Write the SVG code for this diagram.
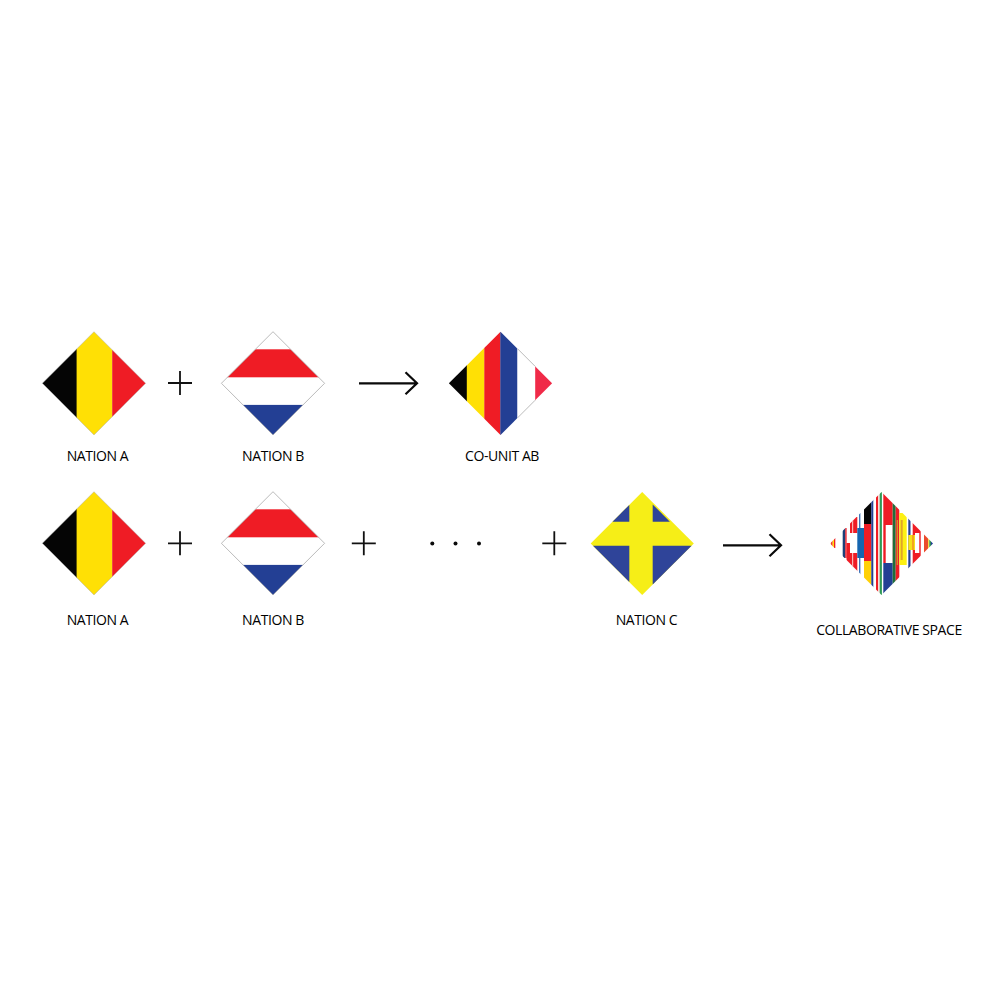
<svg xmlns="http://www.w3.org/2000/svg" width="1000" height="1000" viewBox="0 0 1000 1000">
<style>
.lbl{font-family:"Open Sans","Noto Sans",sans-serif;font-size:14px;fill:#000;text-anchor:middle;letter-spacing:-.42px}
.edge{fill:none;stroke:#a9a9a9;stroke-width:.8}
.conn{fill:none;stroke:#111;stroke-width:1.8}
.arr{fill:none;stroke:#0a0a0a;stroke-width:2.2}
.blk{fill:#050505}.yel{fill:#ffe005}.red{fill:#ef1c25}.blu{fill:#233f94}.wht{fill:#fff}.sw{fill:#2f4499}
</style>
<defs>
<clipPath id="dc"><polygon points="0,-51.6 51.6,0 0,51.6 -51.6,0"/></clipPath>
<clipPath id="cc"><polygon points="881.5,492 933,543.5 881.5,595 830,543.5"/></clipPath>
<g id="belgium"><g clip-path="url(#dc)">
<rect class="blk" x="-52" y="-52" width="35" height="104"/><rect class="yel" x="-17.400" y="-52" width="35.600" height="104"/><rect class="red" x="18.200" y="-52" width="34" height="104"/></g>
<polygon class="edge" points="0,-51.600 51.600,0 0,51.600 -51.600,0" stroke-opacity=".6"/></g>
<g id="netherlands"><g clip-path="url(#dc)">
<rect class="wht" x="-52" y="-52" width="104" height="104"/>
<rect class="red" x="-52" y="-34" width="104" height="28"/><rect class="blu" x="-52" y="21.600" width="104" height="31"/></g>
<polygon class="edge" points="0,-51.600 51.600,0 0,51.600 -51.600,0"/></g>
<path id="plus" class="conn" d="M-12,0H12M0,-12V12"/>
<path id="arrow" class="arr" d="M0,0H58M46.500,-11L58,0L46.500,11"/>
</defs>

<g id="connectors">
<use href="#plus" x="180" y="383"/>
<use href="#arrow" x="359" y="383.300"/>
<use href="#plus" x="180" y="543.300"/>
<use href="#plus" x="363.800" y="543.300"/>
<use href="#plus" x="554.300" y="543.300"/>
<use href="#arrow" x="723" y="545.300"/>
<g fill="#0a0a0a"><circle cx="432.300" cy="543.500" r="2"/><circle cx="455.500" cy="543.500" r="2"/><circle cx="479" cy="543.500" r="2"/></g>
</g>

<g id="nation-a-1"><use href="#belgium" x="94" y="383.300"/><text class="lbl" x="97.500" y="461">NATION A</text></g>
<g id="nation-b-1"><use href="#netherlands" x="273" y="383.300"/><text class="lbl" x="273" y="461">NATION B</text></g>
<g id="co-unit-ab"><g transform="translate(500.500 383.300)"><g clip-path="url(#dc)">
<rect class="blk" x="-52" y="-52" width="18.500" height="104"/><rect class="yel" x="-33.700" y="-52" width="17.700" height="104"/><rect class="red" x="-16.200" y="-52" width="16.200" height="104"/><rect class="blu" x="-.2" y="-52" width="17.200" height="104"/><rect class="wht" x="17" y="-52" width="17.700" height="104"/><rect fill="#f02a48" x="34.700" y="-52" width="18" height="104"/></g>
<path class="edge" d="M17,-34.600L34.700,-16.900M17,34.600L34.700,16.900"/></g>
<text class="lbl" x="502" y="461">CO-UNIT AB</text></g>

<g id="nation-a-2"><use href="#belgium" x="94" y="543.300"/><text class="lbl" x="97.500" y="625">NATION A</text></g>
<g id="nation-b-2"><use href="#netherlands" x="273" y="543.300"/><text class="lbl" x="273" y="625">NATION B</text></g>
<g id="nation-c"><polygon fill="#f6ee17" points="642.200,492 693.800,543.500 642.200,595 590.700,543.500"/>
<polygon class="sw" points="629.300,504.900 629.300,521.700 612.500,521.700"/>
<polygon class="sw" points="652.700,504.400 669.900,521.700 652.700,521.700"/>
<polygon class="sw" points="593,545.700 629.300,545.700 629.300,582"/>
<polygon class="sw" points="652.700,545.700 691.600,545.700 652.700,584.600"/>
<text class="lbl" x="646.500" y="625">NATION C</text></g>

<g id="collaborative-space"><g clip-path="url(#cc)">
<rect x="830.700" y="538" width="2" height="10" fill="#ef3b24"/><rect x="832.700" y="538" width="1.300" height="10" fill="#ffe005"/><rect x="834" y="538" width="1.300" height="10" fill="#ef1c25"/>
<rect x="842.700" y="528" width="2.700" height="30" fill="#1d3f78"/><rect x="845.300" y="528" width="1.300" height="30" fill="#ef1c25"/>
<rect x="846.500" y="543" width="3.500" height="22" fill="#ef1c25"/>
<rect x="850" y="517" width="7.300" height="16" fill="#ef1c25"/><rect x="852" y="517" width="1.200" height="16" fill="#f9b5b5"/>
<rect x="850" y="553" width="7.300" height="20" fill="#ef1c25"/><rect x="852" y="553" width="1.200" height="20" fill="#f9b5b5"/>
<rect x="859" y="513" width="1.400" height="62" fill="#3f74b8"/>
<rect x="857.300" y="528" width="6.700" height="30" fill="#1565b0"/>
<rect x="864" y="500" width="7.300" height="24" fill="#050505"/><rect x="864" y="524" width="7.300" height="37" fill="#ef1c25"/><rect x="864" y="561" width="7.300" height="34" fill="#ffd005"/>
<rect x="871.300" y="492" width="2" height="104" fill="#233f94"/>
<rect x="876" y="492" width="2" height="104" fill="#ef1c25"/><rect x="878" y="492" width="1.700" height="104" fill="#f7dcd8"/><rect x="879.700" y="492" width="2.200" height="104" fill="#2f9a55"/>
<rect x="883.300" y="492" width="9.400" height="71" fill="#ef1c25"/><rect x="885.700" y="525" width="7" height="38" fill="#fff"/><rect x="883.300" y="563" width="9.400" height="33" fill="#233f94"/>
<rect x="892.700" y="492" width="3" height="104" fill="#1f6e3a"/><rect x="895.700" y="492" width="3.600" height="104" fill="#ef1c25"/><rect x="896.700" y="520" width="1.200" height="45" fill="#c9a62a"/>
<rect x="899.300" y="513" width="7.400" height="52" fill="#fdf014"/><rect x="900.700" y="520" width="2" height="40" fill="#e0a52a"/>
<rect x="908.300" y="492" width="2.400" height="104" fill="#233f94"/>
<rect x="910.700" y="492" width="2" height="104" fill="#fff"/>
<rect x="908.300" y="535" width="5" height="15" fill="#f5e21a"/>
<rect x="912.700" y="492" width="8" height="104" fill="#ef1c25"/><rect x="913.300" y="535" width="1.700" height="15" fill="#f5e21a"/><rect x="915" y="533" width="4.300" height="20" fill="#fff"/>
<rect x="924" y="492" width="4.300" height="104" fill="#ea4b2c"/>
<rect x="928.300" y="530" width="1" height="30" fill="#f5e21a"/><rect x="929.300" y="530" width="1.700" height="30" fill="#2f8a55"/><rect x="931" y="530" width="2" height="30" fill="#233f94"/>
</g>
<text class="lbl" x="889" y="635">COLLABORATIVE SPACE</text></g>
</svg>
